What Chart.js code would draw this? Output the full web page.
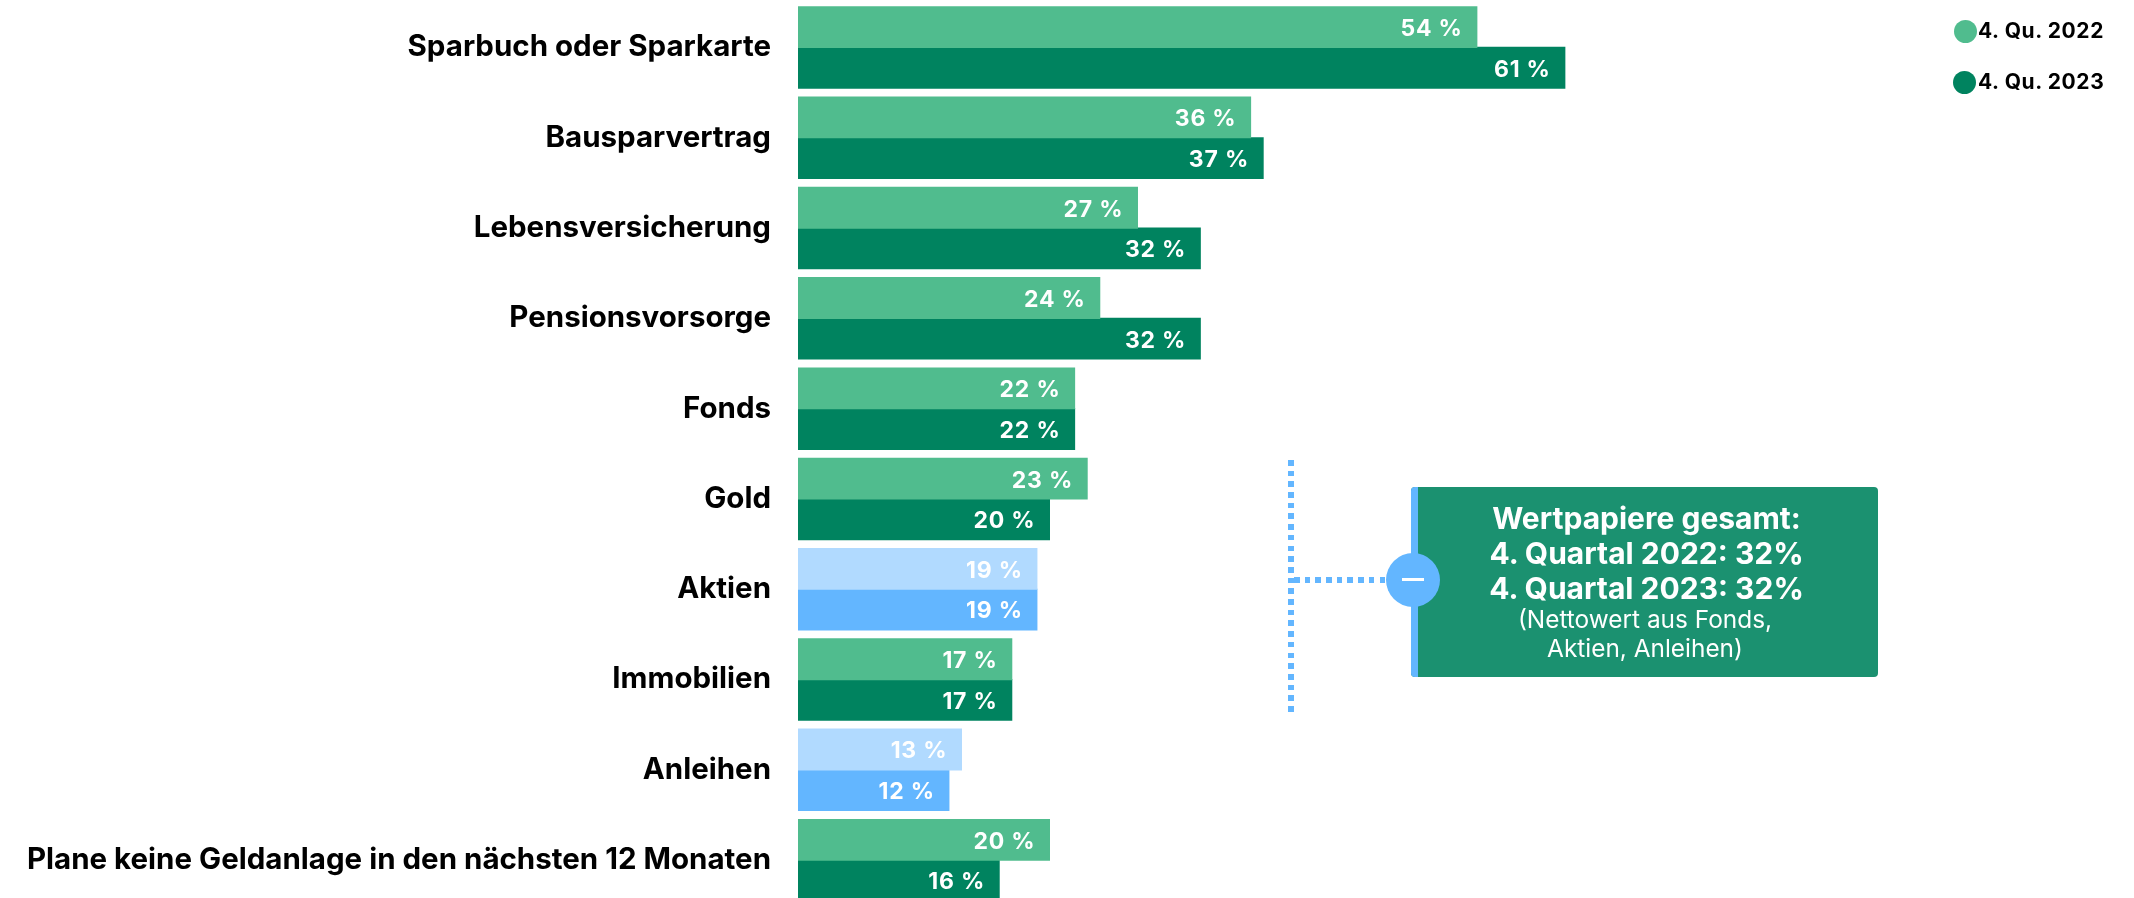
<!DOCTYPE html>
<html lang="de"><head><meta charset="utf-8">
<style>
html,body{margin:0;padding:0;width:2134px;height:898px;overflow:hidden;background:#fff;font-family:Inter,sans-serif}
#wrap{position:absolute;left:0;top:0;width:2134px;height:906px}
.leg{position:absolute;left:1978px;font:700 21px/24px Inter,sans-serif;color:#000;letter-spacing:.6px;white-space:nowrap}
.dot{position:absolute;width:23px;height:23px;border-radius:50%}
#box{position:absolute;left:1411px;top:487px;width:467px;height:190px;background:#1B9170;border-radius:4px;overflow:hidden;color:#fff;text-align:center}
#stripe{position:absolute;left:0;top:0;width:7px;height:100%;background:#63B6FF}
.big{position:absolute;left:0;width:471px;font:700 30px/35px Inter,sans-serif;white-space:nowrap}
.small{position:absolute;left:0;width:468px;font:400 24.4px/29px Inter,sans-serif;white-space:nowrap}
#vline{position:absolute;left:1288px;top:460px;width:6px;height:252px;background:repeating-linear-gradient(to bottom,#63B6FF 0,#63B6FF 5.6px,transparent 5.6px,transparent 10.7px)}
#hline{position:absolute;left:1294px;top:577px;width:100px;height:6px;background:repeating-linear-gradient(to right,#63B6FF 0,#63B6FF 5.6px,transparent 5.6px,transparent 10.7px)}
#circle{position:absolute;left:1386px;top:553px;width:54px;height:54px;border-radius:50%;background:#63B6FF}
#minus{position:absolute;left:16px;top:25px;width:22px;height:2.5px;background:#fff}
</style>
<script src="https://cdn.jsdelivr.net/npm/chart.js@4"></script>
</head><body>
<div id="wrap"><canvas id="c" width="2134" height="906"></canvas></div>
<div class="dot" id="d1" style="left:1953.5px;top:19.5px"></div><div class="leg" id="l1" style="top:19px"></div>
<div class="dot" id="d2" style="left:1952.5px;top:70.5px"></div><div class="leg" id="l2" style="top:70px"></div>
<div id="vline"></div><div id="hline"></div>
<div id="box"><div id="stripe"></div>
<div class="big" style="top:14px">Wertpapiere gesamt:</div>
<div class="big" style="top:49px">4. Quartal 2022: 32%</div>
<div class="big" style="top:84px">4. Quartal 2023: 32%</div>
<div class="small" style="top:118px">(Nettowert aus Fonds,</div>
<div class="small" style="top:147px">Aktien, Anleihen)</div>
</div>
<div id="circle"><div id="minus"></div></div>
<script>
const categories = ["Sparbuch oder Sparkarte","Bausparvertrag","Lebensversicherung","Pensionsvorsorge","Fonds","Gold","Aktien","Immobilien","Anleihen","Plane keine Geldanlage in den nächsten 12 Monaten"];
const seriesNames = ["4. Qu. 2022","4. Qu. 2023"];
const values2022 = [54,36,27,24,22,23,19,17,13,20];
const values2023 = [61,37,32,32,22,20,19,17,12,16];
const blueCategories = ["Aktien","Anleihen"];
const COL = {lg:"#50BC8E",dg:"#00835F",lb:"#B1DAFF",db:"#63B6FF"};
const colors = (g,b) => categories.map(c => blueCategories.includes(c) ? b : g);

const valueLabels = {
  id:"valueLabels",
  afterDatasetsDraw(chart){
    const ctx = chart.ctx;
    ctx.save();
    ctx.font = "700 23px Inter, sans-serif";
    ctx.letterSpacing = "0.8px";
    ctx.fillStyle = "#fff";
    ctx.textAlign = "right";
    ctx.textBaseline = "middle";
    chart.data.datasets.forEach((ds,i)=>{
      chart.getDatasetMeta(i).data.forEach((bar,j)=>{
        ctx.fillText(ds.data[j]+" %", bar.x-14, bar.y+2);
      });
    });
    ctx.restore();
  }
};

new Chart(document.getElementById("c"),{
  type:"bar",
  data:{labels:categories,datasets:[
    {label:seriesNames[0],data:values2022,backgroundColor:colors(COL.lg,COL.lb),categoryPercentage:0.9,barPercentage:1,inflateAmount:0.6},
    {label:seriesNames[1],data:values2023,backgroundColor:colors(COL.dg,COL.db),categoryPercentage:0.9,barPercentage:1,inflateAmount:0.6}
  ]},
  options:{
    indexAxis:"y",responsive:false,animation:false,
    layout:{padding:{top:2.3,bottom:0.7,left:0,right:79}},
    plugins:{legend:{display:false},tooltip:{enabled:false}},
    scales:{
      x:{display:false,min:0,max:100},
      y:{
        afterFit(s){s.width=798;s.paddingTop=0;s.paddingBottom=0;},
        grid:{display:false,drawTicks:false},border:{display:false},
        ticks:{color:"#000",padding:27,autoSkip:false,font:{family:"Inter, sans-serif",size:29.5,weight:"700"}}
      }
    }
  },
  plugins:[valueLabels]
});
document.getElementById("l1").textContent=seriesNames[0];
document.getElementById("l2").textContent=seriesNames[1];
document.getElementById("d1").style.background=COL.lg;
document.getElementById("d2").style.background=COL.dg;
</script>
</body></html>
